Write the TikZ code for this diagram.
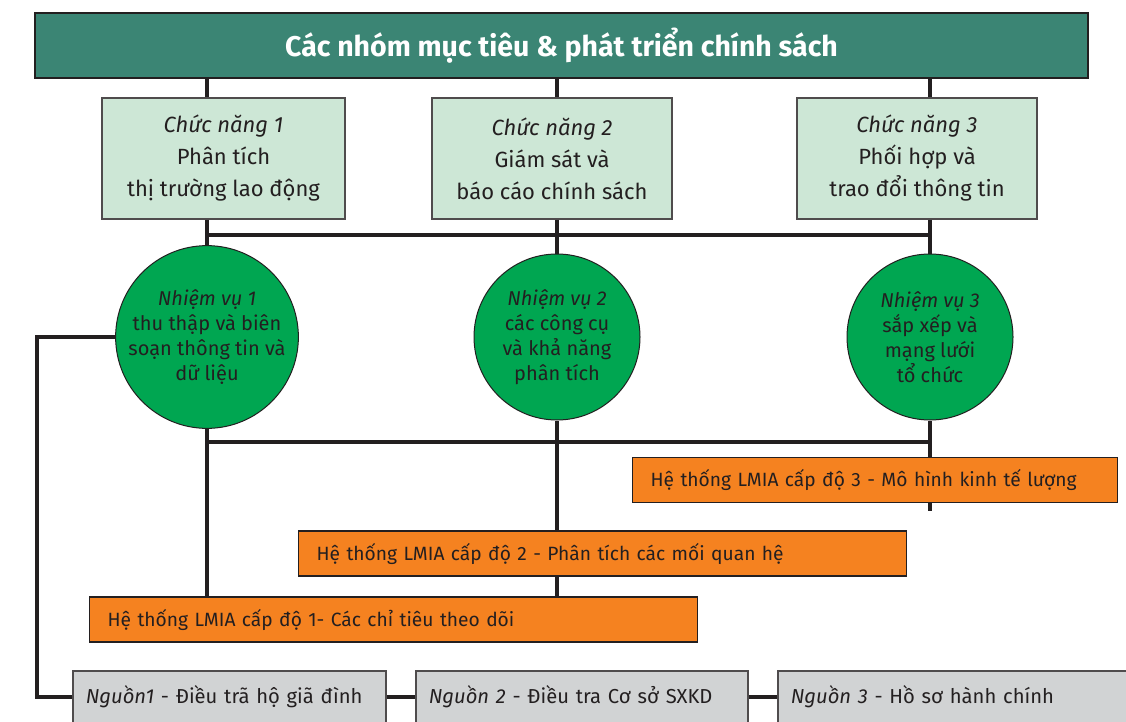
\documentclass[tikz,border=0pt]{standalone}
\usepackage{fontspec}
\setmainfont{Fira Sans}
\definecolor{barteal}{HTML}{3B8574}
\definecolor{fnmint}{HTML}{CDE7D6}
\definecolor{taskgreen}{HTML}{00A651}
\definecolor{lmiaorange}{HTML}{F58220}
\definecolor{srcgrey}{HTML}{D1D3D4}
\definecolor{inkgrey}{HTML}{231F20}
\tikzset{
  wire/.style={line width=4pt, inkgrey},
  topbar/.style={draw=inkgrey, line width=1.2pt, fill=barteal, text=white,
    minimum width=1053pt, minimum height=65pt,
    font=\bfseries\fontsize{28.5}{32}\selectfont},
  fnbox/.style={draw=inkgrey!80, line width=1.2pt, fill=fnmint, text=inkgrey,
    minimum height=121pt, align=center,
    font=\fontsize{22}{32}\selectfont},
  taskcirc/.style={circle, draw=inkgrey, line width=1pt, fill=taskgreen,
    text=inkgrey, minimum size=166pt, inner sep=0pt, align=center,
    font=\fontsize{20}{25}\selectfont},
  lmiabox/.style={draw=inkgrey, line width=1.2pt, fill=lmiaorange,
    text=inkgrey, anchor=west, inner xsep=18pt, minimum height=45pt,
    align=left, font=\fontsize{19.2}{22}\selectfont},
  srcbox/.style={draw=inkgrey!80, line width=1.5pt, fill=srcgrey,
    text=inkgrey, anchor=west, inner xsep=13pt, minimum height=52pt,
    align=left, font=\fontsize{20.2}{24}\selectfont}
}
\begin{document}
\begin{tikzpicture}[x=1pt, y=-1pt]
  \clip (0,0) rectangle (1126,722);
  % Policy group bar
  \node[topbar] (title) at (561.5,45.5) {Các nhóm mục tiêu \& phát triển chính sách};
  % Functions
  \node[fnbox, minimum width=243pt] (fn1) at (223.5,158.5)
    {\textit{Chức năng 1}\\Phân tích\\thị trường lao động};
  \node[fnbox, minimum width=240pt] (fn2) at (552,158.5)
    {\textit{Chức năng 2}\\Giám sát và\\báo cáo chính sách};
  \node[fnbox, minimum width=240pt] (fn3) at (917,158.5)
    {\textit{Chức năng 3}\\Phối hợp và\\trao đổi thông tin};
  % Tasks
  \node[taskcirc] (task1) at (207,337)
    {\textit{Nhiệm vụ 1}\\thu thập và biên\\soạn thông tin và\\dữ liệu};
  \node[taskcirc] (task2) at (557,337)
    {\textit{Nhiệm vụ 2}\\các công cụ\\và khả năng\\phân tích};
  \node[taskcirc] (task3) at (930,337)
    {\textit{Nhiệm vụ 3}\\sắp xếp và\\mạng lưới\\tổ chức};
  % LMIA levels
  \node[lmiabox, text width=449pt] (lmia3) at (632,480)
    {Hệ thống LMIA cấp độ 3 - Mô hình kinh tế lượng};
  \node[lmiabox, text width=572pt] (lmia2) at (298,553.5)
    {Hệ thống LMIA cấp độ 2 - Phân tích các mối quan hệ};
  \node[lmiabox, text width=572pt] (lmia1) at (89,619.5)
    {Hệ thống LMIA cấp độ 1- Các chỉ tiêu theo dõi};
  % Data sources
  \node[srcbox, text width=287pt] (src1) at (72,697)
    {\mbox{\textit{Nguồn1} - Điều trã hộ giã đình}};
  \node[srcbox, text width=306pt] (src2) at (415,697)
    {\mbox{\textit{Nguồn 2} - Điều tra Cơ sở SXKD}};
  \node[srcbox, text width=334pt] (src3) at (777,697)
    {\mbox{\textit{Nguồn 3} - Hồ sơ hành chính}};
  \coordinate (bus1) at (0,235);
  \coordinate (bus2) at (0,442);
  \coordinate (leftrail) at (37,0);
  \coordinate (tail3) at (930,511);
  % Connectors
  \foreach \f/\t in {fn1/task1, fn2/task2, fn3/task3}{
    \draw[wire] (title.south -| \t.north) -- (\f.north -| \t.north);
    \draw[wire] (\f.south -| \t.north) -- (\t.north);
  }
  \draw[wire] (task1 |- bus1) -- (task3 |- bus1);
  \draw[wire] (task1 |- bus2) -- (task3 |- bus2);
  \draw[wire] (task1.south) -- (task1.south |- lmia1.north);
  \draw[wire] (task2.south) -- (task2.south |- lmia2.north);
  \draw[wire] (task2.south |- lmia2.south) -- (task2.south |- lmia1.north);
  \draw[wire] (task3.south) -- (task3.south |- lmia3.north);
  \draw[wire] (task3.south |- lmia3.south) -- (tail3);
  \draw[wire] (task1.west) -- (task1.west -| leftrail) |- (src1.west);
  \draw[wire] (src1.east) -- (src2.west);
  \draw[wire] (src2.east) -- (src3.west);
\end{tikzpicture}
\end{document}
